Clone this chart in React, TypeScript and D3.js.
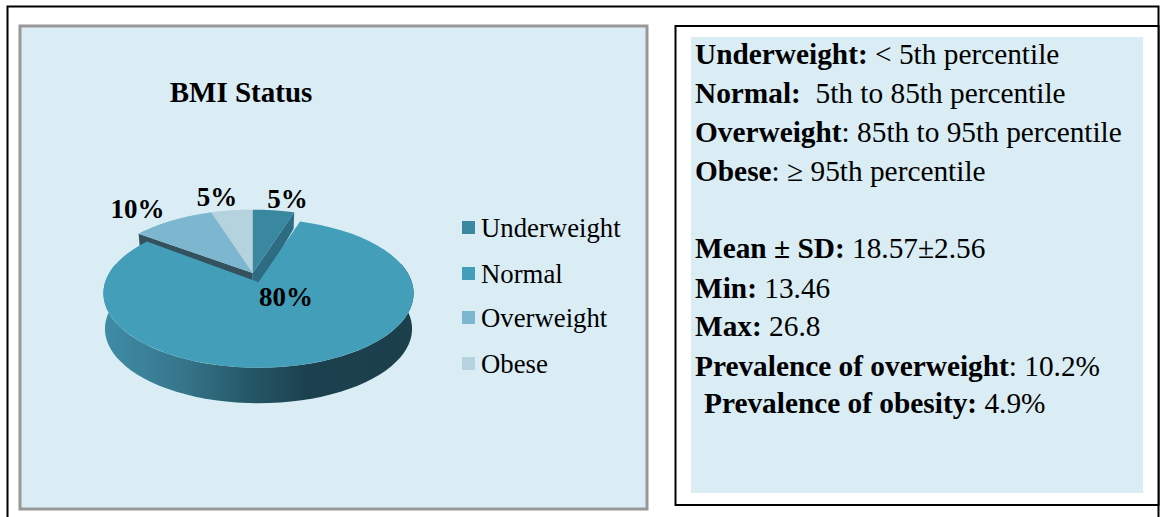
import React from "react";
import * as d3 from "d3";

const categories = ["Underweight", "Normal", "Overweight", "Obese"];
const values = [5, 80, 10, 5];
const pctLabels = ["5%", "80%", "10%", "5%"];
const colors = ["#3a87a0", "#439fb9", "#7cb7cf", "#b5d2df"];
const sideColors = ["#2d6c82", "#1b3f4b", "#33525e", "#b5d2df"];
const labelPos: [number, number][] = [[287.5, 208], [286, 306], [137.5, 218], [217, 206]];
const legendY = [228, 274, 318, 364];
const notes = [
  { y: 64, x: 695, bold: "Underweight:", rest: " < 5th percentile" },
  { y: 103, x: 695, bold: "Normal:", rest: "  5th to 85th percentile" },
  { y: 142, x: 695, bold: "Overweight", rest: ": 85th to 95th percentile" },
  { y: 181, x: 695, bold: "Obese", rest: ": ≥ 95th percentile" },
  { y: 258, x: 695, bold: "Mean ± SD:", rest: " 18.57±2.56" },
  { y: 298, x: 695, bold: "Min:", rest: " 13.46" },
  { y: 336, x: 695, bold: "Max:", rest: " 26.8" },
  { y: 376, x: 695, bold: "Prevalence of overweight", rest: ": 10.2%" },
  { y: 413, x: 704, bold: "Prevalence of obesity:", rest: " 4.9%" },
];
const FONT = "'Liberation Serif', serif";

const RX = 153.4, RY = 72.8, K = 0.149;
const wallDepth = d3.scaleLinear().domain([-1, 1]).range([16, 35]);
const BAND_DEPTH = 35.5;

function project(a: number, c: [number, number], drop = 0, s = 1): [number, number] {
  const u = Math.sin(a), v = -Math.cos(a);
  const f = 1 / (1 - K * v);
  return [c[0] + RX * u * f * s, c[1] + RY * v * f + drop];
}
const line = d3.line();
const samples = (a0: number, a1: number) =>
  d3.range(0, 61).map((i) => a0 + ((a1 - a0) * i) / 60);

export default function App() {
  const arcs = d3.pie<number>().sort(null)(values);
  const r = Math.PI / 180;
  const c0: [number, number] = [252.7, 273];
  const c1: [number, number] = [258.5, 282.2];
  const centers = [c0, c1, c0, c0];
  const pad = [0, 1.5 * r, 0, 0];
  const topPath = (i: number) =>
    line([centers[i], ...samples(arcs[i].startAngle, arcs[i].endAngle + pad[i]).map((a) => project(a, centers[i]))])! + "Z";
  const wall = (i: number, a: number) => {
    const c = centers[i];
    const v = -Math.cos(a);
    const top = project(a, c);
    const low = project(a, c, wallDepth(v), 0.985);
    return line([c, top, low, [c[0], c[1] + wallDepth(0)]])! + "Z";
  };
  const front = samples(75 * r, 285 * r);
  const band =
    line([
      ...front.map((a) => project(a, c1)),
      ...front.slice().reverse().map((a) => project(a, c1, BAND_DEPTH, 0.99)),
    ])! + "Z";

  return (
    <svg width={1165} height={517} style={{ position: "absolute", left: 0, top: 0 }} fontFamily={FONT}>
      <defs>
        <linearGradient id="side" gradientUnits="userSpaceOnUse" x1={104} x2={414} y1={0} y2={0}>
          <stop offset="0" stopColor="#3f8ca6" />
          <stop offset="0.25" stopColor="#36768c" />
          <stop offset="0.45" stopColor="#265a6a" />
          <stop offset="0.65" stopColor="#1c414e" />
          <stop offset="1" stopColor="#1b3f4b" />
        </linearGradient>
      </defs>
      <rect width={1165} height={517} fill="#fff" />
      <path d="M7.5 517V6.5H1158.5V517" fill="none" stroke="#000" strokeWidth={2} />
      <rect x={20} y={26} width={627} height={483} fill="#daedf4" stroke="#989898" strokeWidth={3} />
      <rect x={675.5} y={26} width={483} height={479} fill="#fff" stroke="#000" strokeWidth={2} />
      <rect x={691} y={37} width={452} height={456} fill="#daedf4" />

      <text x={241} y={102} textAnchor="middle" fontWeight="bold" fontSize={29}>BMI Status</text>

      {[0, 2].map((i) => (
        <path key={i} d={wall(i, i === 0 ? arcs[0].endAngle : arcs[2].startAngle)} fill={sideColors[i]} />
      ))}
      <path d={band} fill="url(#side)" />
      {[3, 2, 0, 1].map((i) => (
        <path key={categories[i]} d={topPath(i)} fill={colors[i]} />
      ))}

      {pctLabels.map((t, i) => (
        <text key={i} x={labelPos[i][0]} y={labelPos[i][1]} textAnchor="middle" fontWeight="bold" fontSize={27}>{t}</text>
      ))}

      {categories.map((c, i) => (
        <g key={c}>
          <rect x={462} y={legendY[i] - 7} width={13} height={13} fill={colors[i]} />
          <text x={481} y={legendY[i] + 9} fontSize={26.75}>{c}</text>
        </g>
      ))}

      {notes.map((n) => (
        <text key={n.y} x={n.x} y={n.y} fontSize={29.33} xmlSpace="preserve" style={{ whiteSpace: "pre" }}>
          <tspan fontWeight="bold">{n.bold}</tspan>
          <tspan>{n.rest}</tspan>
        </text>
      ))}
    </svg>
  );
}
